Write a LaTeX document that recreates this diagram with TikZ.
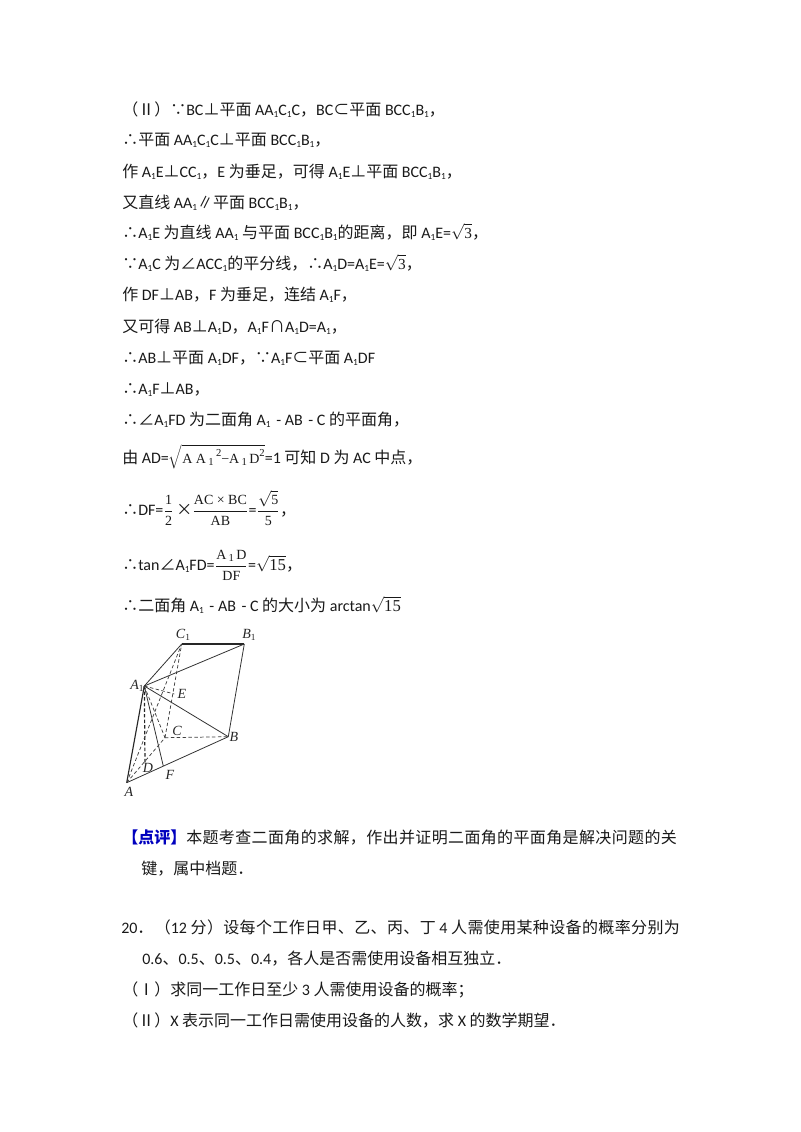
\documentclass[tikz,border=0pt]{standalone}
\usepackage{fontspec}
\setmainfont{Carlito}
\newfontfamily\zh{Noto Sans CJK SC}
\newfontfamily\zhs[LetterSpace=2.3]{Noto Sans CJK SC}
\newfontfamily\ff{Liberation Serif}
\newcommand{\Z}[1]{{\zh #1}}
\newcommand{\ZS}[1]{{\zhs #1}}
\newcommand{\si}{\raisebox{-0.35ex}{\fontsize{7}{8}\selectfont 1}}
\newcommand{\fs}[1]{\hbox{\fontsize{10.5}{12}\ff #1}}
\newcommand{\fr}[1]{\hbox{\fontsize{12.5}{14}\ff #1}}
\newcommand{\ft}[1]{\hbox{\fontsize{11.5}{13}\ff #1}}
\definecolor{dp}{RGB}{0,0,190}
\tikzset{
 tx/.style={inner sep=0pt,anchor=base west,font=\fontsize{12}{14}\selectfont,text=black!90},
 lab/.style={inner sep=0pt,font=\fontsize{10.5}{11}\ff\itshape,text=black!85},
 pt/.style={inner sep=0pt,minimum size=0pt},
 ln/.style={draw=black!80,line width=0.6pt},
 hv/.style={draw=black!85,line width=0.85pt},
 dsh/.style={draw=black!75,line width=0.55pt,dash pattern=on 2.6pt off 1.8pt},
 dhv/.style={draw=black!85,line width=0.9pt,dash pattern=on 2.6pt off 1.6pt}
}
\begin{document}
\begin{tikzpicture}[x=0.75pt,y=-0.75pt]
\useasboundingbox (0,0) rectangle (800,1132);
\node[tx] (l1) at (122,115) {\Z{（Ⅱ）∵}BC\Z{⊥平面} AA\si C\si C\Z{，}BC\Z{⊂平面} BCC\si B\si\Z{，}};
\node[tx] (l2) at (122,145) {\Z{∴平面} AA\si C\si C\Z{⊥平面} BCC\si B\si\Z{，}};
\node[tx] (l3) at (122,177) {\Z{作} A\si E\Z{⊥}CC\si\Z{，}E \Z{为垂足，可得} A\si E\Z{⊥平面} BCC\si B\si\Z{，}};
\node[tx] (l4) at (122,208) {\Z{又直线} AA\si\Z{∥平面} BCC\si B\si\Z{，}};
\node[tx] (l5) at (122,238) {\Z{∴}A\si E \Z{为直线} AA\si\ \Z{与平面} BCC\si B\si\Z{的距离，即} A\si E=$\sqrt{\ft{3}}$\Z{，}};
\node[tx] (l6) at (122,269) {\Z{∵}A\si C \Z{为∠}ACC\si\Z{的平分线，∴}A\si D=A\si E=$\sqrt{\ft{3}}$\Z{，}};
\node[tx] (l7) at (122,300) {\Z{作} DF\Z{⊥}AB\Z{，}F \Z{为垂足，连结} A\si F\Z{，}};
\node[tx] (l8) at (122,332) {\Z{又可得} AB\Z{⊥}A\si D\Z{，}A\si F\Z{∩}A\si D=A\si\Z{，}};
\node[tx] (l9) at (122,363) {\Z{∴}AB\Z{⊥平面} A\si DF\Z{，∵}A\si F\Z{⊂平面} A\si DF};
\node[tx] (l10) at (122,394) {\Z{∴}A\si F\Z{⊥}AB\Z{，}};
\node[tx] (l11) at (122,425) {\Z{∴∠}A\si FD \Z{为二面角} A\si\hspace{1.5pt} - AB\hspace{1.5pt} - C \Z{的平面角，}};
\node[tx] (l12) at (122,463) {\Z{由} AD=$\sqrt{\fs{A A\,\raisebox{-0.4ex}{\fontsize{8}{9}\selectfont 1}\,\raisebox{1ex}{\fontsize{8}{9}\selectfont 2}−A\,\raisebox{-0.4ex}{\fontsize{8}{9}\selectfont 1}\,D\raisebox{1ex}{\fontsize{8}{9}\selectfont 2}}}$=1 \Z{可知} D \Z{为} AC \Z{中点，}};
\node[tx] (l13) at (122,515) {\Z{∴}DF=$\displaystyle\frac{\fs{1}}{\fs{2}}$\,\Z{×}$\displaystyle\frac{\fs{AC × BC}}{\fs{AB}}$=$\displaystyle\frac{\sqrt{\fs{5}}}{\fs{5}}$\Z{，}};
\node[tx] (l14) at (122,570) {\Z{∴}tan\Z{∠}A\si FD=$\displaystyle\frac{\fs{A\,\raisebox{-0.4ex}{\fontsize{8}{9}\selectfont 1}\,D}}{\fs{DF}}$=$\sqrt{\fr{15}}$\Z{，}};
\node[tx] (l15) at (122,611) {\Z{∴二面角} A\si\hspace{1.5pt} - AB\hspace{1.5pt} - C \Z{的大小为} arctan$\sqrt{\fr{15}}$};
\node[tx] (c1) at (122,843) {{\zh\bfseries\color{dp}【点评】}\ZS{本题考查二面角的求解，作出并证明二面角的平面角是解决问题的关}};
\node[tx] (c2) at (141,874) {\Z{键，属中档题．}};
\node[tx] (q1) at (121,933) {20\Z{．}\hspace{1pt}\ZS{（}12 \ZS{分）设每个工作日甲、乙、丙、丁} 4 \ZS{人需使用某种设备的概率分别为}};
\node[tx] (q2) at (142,964) {0.6\Z{、}0.5\Z{、}0.5\Z{、}0.4\Z{，各人是否需使用设备相互独立．}};
\node[tx] (q3) at (122,995) {\Z{（Ⅰ）求同一工作日至少} 3 \Z{人需使用设备的概率；}};
\node[tx] (q4) at (122,1026) {\Z{（Ⅱ）}X \Z{表示同一工作日需使用设备的人数，求} X \Z{的数学期望．}};
% figure
\node[pt] (C1) at (181.7,644) {};
\node[pt] (B1) at (244.3,644) {};
\node[pt] (A1) at (144.3,686) {};
\node[pt] (E) at (174.3,694) {};
\node[pt] (C) at (165,737.7) {};
\node[pt] (B) at (228.3,736.7) {};
\node[pt] (A) at (126.7,782.7) {};
\node[pt] (D) at (145,763) {};
\node[pt] (F) at (163.3,766) {};
\draw[ln] (A1.center)--(C1.center);
\draw[hv] (C1.center)--(B1.center);
\draw[ln] (A1.center)--(B1.center);
\draw[ln] (B1.center)--(B.center);
\draw[ln] (A1.center)--(B.center);
\draw[ln] (A.center)--(B.center);
\draw[hv] (A.center)--(A1.center);
\draw[ln] (A1.center)--(F.center);
\draw[dhv] (A1.center)--(D.center);
\draw[dsh] (A.center)--(C.center);
\draw[dsh] (C.center)--(B.center);
\draw[dsh] (C.center)--(C1.center);
\draw[dsh] (A.center)--(C1.center);
\draw[dsh] (A1.center)--(C.center);
\draw[dsh] (A1.center)--(E.center);
\node[lab] (tC1) at (183,635) {C\raisebox{-0.3ex}{\upshape\fontsize{7}{8}\selectfont 1}};
\node[lab] (tB1) at (249,635) {B\raisebox{-0.3ex}{\upshape\fontsize{7}{8}\selectfont 1}};
\node[lab] (tA1) at (137,686) {A\raisebox{-0.3ex}{\upshape\fontsize{7}{8}\selectfont 1}};
\node[lab] (tE) at (182,694) {E};
\node[lab] (tC) at (177,731) {C};
\node[lab] (tB) at (234,737) {B};
\node[lab] (tD) at (148,768) {D};
\node[lab] (tF) at (170,775) {F};
\node[lab] (tA) at (129,792) {A};
\end{tikzpicture}
\end{document}
